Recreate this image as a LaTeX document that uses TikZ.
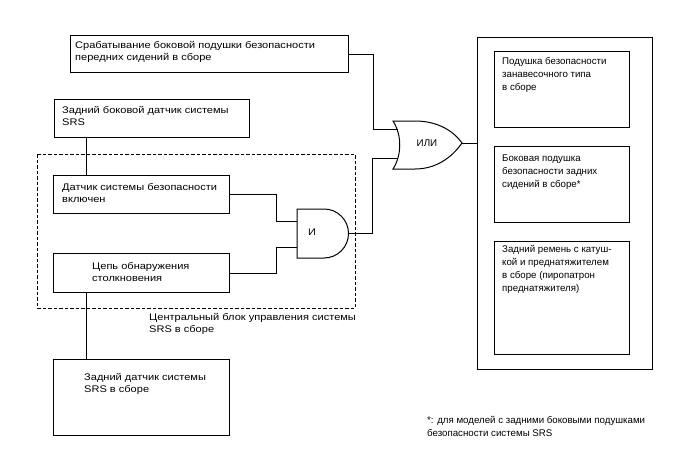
\documentclass[tikz,border=0pt]{standalone}
\usepackage{fontspec}
\setmainfont{Liberation Sans}
\newfontfamily\widefont[FakeStretch=1.15]{Liberation Sans}
\usepackage{tikz}
\usetikzlibrary{positioning,calc}

\begin{document}
\begin{tikzpicture}[x=1pt,y=-1pt]
    % Define styles
    \tikzstyle{box} = [rectangle, draw, line width=1pt, inner sep=0pt, anchor=north west]
    \tikzstyle{txt} = [anchor=north west, align=left, inner sep=0pt, font=\fontsize{9.7}{13}\selectfont]
    \tikzstyle{wtxt} = [txt, font=\widefont\fontsize{9.6}{12.5}\selectfont]
    \tikzstyle{wire} = [line width=1pt]
    \tikzstyle{gate} = [line width=1pt]

    \useasboundingbox (0,0) rectangle (688,463);

    % Front airbag
    \node[box, minimum width=278pt, minimum height=37pt] (front) at (70,35) {};
    \node[wtxt] (front-t) at (75,41) {Срабатывание боковой подушки безопасности\\передних сидений в сборе};

    % Rear side sensor
    \node[box, minimum width=195pt, minimum height=38pt] (side) at (54,99) {};
    \node[wtxt] (side-t) at (62,106) {Задний боковой датчик системы\\SRS};

    % Central unit
    \draw[line width=1pt, dash pattern=on 3.5pt off 2pt] (37,154) rectangle (355,308);
    \node[box, minimum width=176pt, minimum height=38pt] (sens) at (53,175) {};
    \node[wtxt] (sens-t) at (62,183) {Датчик системы безопасности\\включен};
    \node[box, minimum width=176pt, minimum height=39pt] (crash) at (53,253) {};
    \node[wtxt] (crash-t) at (92,262) {Цепь обнаружения\\столкновения};
    \node[wtxt] (ecu-t) at (149,313) {Центральный блок управления системы\\SRS в сборе};

    % Rear sensor
    \node[box, minimum width=176pt, minimum height=76pt] (rear) at (53,359) {};
    \node[wtxt] (rear-t) at (84,373) {Задний датчик системы\\SRS в сборе};

    % AND gate
    \draw[gate] (297,209) -- (324,209) arc (-90:90:24.5) -- (297,258) -- cycle;
    \node[font=\widefont\fontsize{9.6}{12}\selectfont] (and) at (312,232) {И};
    \coordinate (and-in1) at (297,221);
    \coordinate (and-in2) at (297,247);
    \coordinate (and-out) at (348.5,233.5);

    % OR gate
    \draw[gate] (393,121) -- (415,121) .. controls (440,121) and (455,133) .. (462,143)
        .. controls (455,153) and (440,169) .. (415,169) -- (393,169)
        .. controls (402,155) and (402,135) .. (393,121) -- cycle;
    \node[font=\fontsize{9.8}{12}\selectfont] (or) at (427,143) {ИЛИ};
    \coordinate (or-in1) at (398,129);
    \coordinate (or-in2) at (398,158);
    \coordinate (or-out) at (462,143);

    % Outputs
    \node[box, minimum width=175pt, minimum height=332pt] (out) at (477,37) {};
    \node[box, minimum width=135pt, minimum height=76pt] (curtain) at (494,51) {};
    \node[txt] (curtain-t) at (502,57) {Подушка безопасности\\занавесочного типа\\в сборе};
    \node[box, minimum width=135pt, minimum height=76pt] (rsab) at (494,146) {};
    \node[txt] (rsab-t) at (502,155) {Боковая подушка\\безопасности задних\\сидений в сборе*};
    \node[box, minimum width=135pt, minimum height=113pt] (belt) at (494,241) {};
    \node[txt] (belt-t) at (502,245) {Задний ремень с катуш-\\кой и преднатяжителем\\в сборе (пиропатрон\\преднатяжителя)};

    % Note
    \node[txt] (note) at (427,416) {*: для моделей с задними боковыми подушками\\безопасности системы SRS};

    % Wires
    \draw[wire] (front.east) -- ++(24,0) |- (or-in1);
    \draw[wire] (and-out) -- ++(23.5,0) |- (or-in2);
    \draw[wire] (or-out) -- (out.west |- or-out);
    \draw[wire] (sens.north west) ++(33,0) coordinate (s1) -- (s1 |- side.south);
    \draw[wire] (sens.east) -- ++(46,0) |- (and-in1);
    \draw[wire] (crash.east) -- ++(46,0) |- (and-in2);
    \draw[wire] (crash.south west) ++(33,0) coordinate (c1) -- (c1 |- rear.north);

\end{tikzpicture}
\end{document}
